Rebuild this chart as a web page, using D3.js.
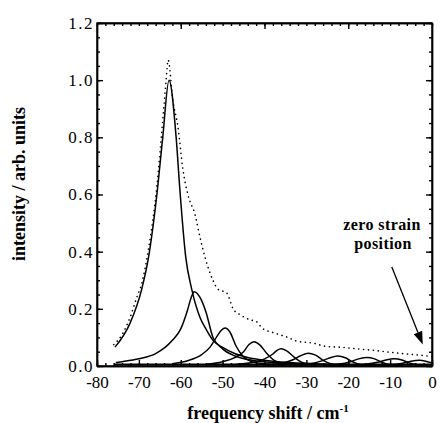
<!DOCTYPE html>
<html>
<head>
<meta charset="utf-8">
<script src="https://cdn.jsdelivr.net/npm/d3@7"></script>
<style>
  body { margin: 0; background: #fff; }
  svg { display: block; }
  .axis path, .axis line { stroke: #000; stroke-width: 1.4; }
  .axis text { font-family: "Liberation Serif", "Times New Roman", serif; font-size: 17px; fill: #000; }
  .title { font-family: "Liberation Serif", "Times New Roman", serif; font-weight: bold; fill: #000; }
</style>
</head>
<body>
<div id="chart"></div>
<script>
// tick labels
var xTicks = [-80, -70, -60, -50, -40, -30, -20, -10, 0];
var yTicks = [0.0, 0.2, 0.4, 0.6, 0.8, 1.0, 1.2];

// measured spectrum (dotted), [shift, intensity]
var measured = [[-76,0.075],[-74,0.11],[-72.1,0.17],[-70.5,0.24],[-69.3,0.29],[-67.7,0.41],[-65.7,0.63],[-64.3,0.86],[-63.5,1.0],[-63,1.07],
  [-61.9,0.93],[-60.7,0.84],[-59.5,0.69],[-58.3,0.6],[-56.6,0.53],[-55.4,0.45],[-54.2,0.38],[-52.3,0.3],[-51.2,0.27],[-49,0.255],
  [-47.5,0.2],[-45.9,0.18],[-43.5,0.162],[-41.8,0.154],[-40.6,0.133],[-37.5,0.115],[-34.4,0.1],[-32.3,0.087],[-28.4,0.08],
  [-25,0.068],[-22,0.066],[-18,0.06],[-14.8,0.056],[-10,0.048],[-6,0.042],[-2.9,0.038],[0,0.033]];

// fitted components
var peak1 = [[-75.7,0.066],[-72.1,0.15],[-69.3,0.27],[-67.7,0.38],[-65.7,0.6],[-64.3,0.8],[-62.8,1.0],[-61.1,0.8],[-60.2,0.615],
  [-58.8,0.38],[-57.4,0.27],[-55.4,0.17],[-54,0.13],[-52.3,0.09],[-50,0.065],[-47,0.043],[-44,0.03],[-40,0.02],[-35,0.013],[-28,0.008],[-20,0.005]];
var peak2 = [[-75.5,0.012],[-74,0.015],[-70,0.025],[-66,0.043],[-62,0.09],[-60,0.13],[-58.5,0.19],[-57.5,0.24],[-56.8,0.26],
  [-55.4,0.24],[-54,0.19],[-52.3,0.1],[-50,0.06],[-47,0.035],[-43,0.02],[-38,0.012],[-30,0.007]];
var peak3 = [[-62,0.008],[-60.2,0.012],[-58,0.02],[-55,0.04],[-53,0.066],[-51.5,0.1],[-50.3,0.125],[-49.4,0.133],[-48.3,0.12],
  [-46.8,0.07],[-45.2,0.035],[-43,0.015],[-40,0.008],[-35,0.004]];
var peak4 = [[-54,0.006],[-50,0.015],[-47,0.03],[-45,0.05],[-43.7,0.075],[-42.5,0.085],[-41.2,0.075],[-39.5,0.045],[-37.5,0.018],[-35,0.007],[-30,0.003]];
var peak5 = [[-47,0.005],[-43,0.012],[-40,0.025],[-38,0.042],[-37,0.055],[-36,0.06],[-34.8,0.054],[-33,0.032],[-31,0.012],[-28,0.004]];
var peak6 = [[-40,0.004],[-36,0.01],[-33.5,0.02],[-31.5,0.035],[-29.6,0.045],[-27.8,0.038],[-26,0.02],[-24,0.007],[-21,0.002]];
var peak7 = [[-33,0.003],[-29,0.008],[-26.5,0.017],[-24.5,0.028],[-22.5,0.035],[-20.7,0.029],[-19,0.015],[-17,0.005],[-14,0.002]];
var peak8 = [[-26,0.003],[-22,0.007],[-19.5,0.015],[-17.5,0.025],[-15.5,0.03],[-13.7,0.025],[-12,0.013],[-10,0.004],[-7,0.001]];
var peak9 = [[-20,0.002],[-16,0.006],[-13,0.013],[-11,0.021],[-9,0.025],[-7.2,0.021],[-5.5,0.011],[-3.5,0.004],[-1,0.001]];
var peak10 = [[-14,0.002],[-10,0.005],[-7,0.01],[-5,0.017],[-3,0.02],[-1.5,0.017],[0,0.011]];

var arrowFrom = [-9.6, 0.346], arrowTo = [-2.2, 0.075];

var margin = { top: 23, right: 9, bottom: 57, left: 97 },
  width  = 441 - margin.left - margin.right,
  height = 423 - margin.top - margin.bottom;

var x = d3.scaleLinear().domain([-80, 0]).range([0, width]);
var y = d3.scaleLinear().domain([0, 1.2]).range([height, 0]);

var svg = d3.select("#chart").append("svg")
  .attr("width", 441)
  .attr("height", 423)
  .append("g")
  .attr("transform", "translate(" + margin.left + "," + margin.top + ")");

var line = d3.line()
  .x(function(d) { return x(d[0]); })
  .y(function(d) { return y(d[1]); })
  .curve(d3.curveMonotoneX);

// minor ticks
var xMinor = d3.range(-80, 0.1, 2);
var yMinor = d3.range(0, 1.201, 0.05);

function minor(axis) { return axis.tickFormat("").tickSizeOuter(0); }

svg.append("g").attr("class", "axis")
  .attr("transform", "translate(0," + height + ")")
  .call(minor(d3.axisBottom(x).tickValues(xMinor).tickSizeInner(-3)));
svg.append("g").attr("class", "axis")
  .call(minor(d3.axisTop(x).tickValues(xMinor).tickSizeInner(-3)));
svg.append("g").attr("class", "axis")
  .call(minor(d3.axisLeft(y).tickValues(yMinor).tickSizeInner(-3)));
svg.append("g").attr("class", "axis")
  .attr("transform", "translate(" + width + ",0)")
  .call(minor(d3.axisRight(y).tickValues(yMinor).tickSizeInner(-3)));

// major ticks + labels (plain hyphen, like the original)
svg.append("g").attr("class", "axis")
  .attr("transform", "translate(0," + height + ")")
  .call(d3.axisBottom(x).tickValues(xTicks).tickSizeInner(-6).tickSizeOuter(0).tickPadding(10)
    .tickFormat(function(d) { return String(d); }));
svg.append("g").attr("class", "axis")
  .call(d3.axisLeft(y).tickValues(yTicks).tickSizeInner(-6).tickSizeOuter(0).tickPadding(3)
    .tickFormat(d3.format(".1f")))
  .selectAll("text").style("letter-spacing", "1.5px");
svg.append("g").attr("class", "axis")
  .call(d3.axisTop(x).tickValues([-60, -40, -20]).tickSizeInner(-6).tickSizeOuter(0).tickFormat(""));
svg.append("g").attr("class", "axis")
  .attr("transform", "translate(" + width + ",0)")
  .call(d3.axisRight(y).tickValues(yTicks).tickSizeInner(-6).tickSizeOuter(0).tickFormat(""));

// frame
svg.append("rect")
  .attr("width", width).attr("height", height)
  .attr("fill", "none").attr("stroke", "#000").attr("stroke-width", 1.4);
svg.append("line")
  .attr("x1", x(-76)).attr("x2", width)
  .attr("y1", height - 1.5).attr("y2", height - 1.5)
  .attr("stroke", "#000").attr("stroke-width", 2);

// components
[peak1, peak2, peak3, peak4, peak5, peak6, peak7, peak8, peak9, peak10].forEach(function(p) {
  svg.append("path")
    .attr("d", line(p))
    .attr("fill", "none")
    .attr("stroke", "#000")
    .attr("stroke-width", 1.5);
});

// measured (dotted)
svg.append("path")
  .attr("d", line(measured))
  .attr("fill", "none")
  .attr("stroke", "#000")
  .attr("stroke-width", 1.6)
  .attr("stroke-linecap", "round")
  .attr("stroke-dasharray", "0.1,4.8");

// annotation
svg.append("text").attr("class", "title")
  .attr("x", 382 - margin.left).attr("y", 230 - margin.top)
  .style("font-size", "16px").style("letter-spacing", "0.4px").style("text-anchor", "middle")
  .text("zero strain");
svg.append("text").attr("class", "title")
  .attr("x", 383 - margin.left).attr("y", 249 - margin.top)
  .style("font-size", "16px").style("letter-spacing", "0.4px").style("text-anchor", "middle")
  .text("position");

var ax0 = x(arrowFrom[0]), ay0 = y(arrowFrom[1]), ax1 = x(arrowTo[0]), ay1 = y(arrowTo[1]);
var ang = Math.atan2(ay1 - ay0, ax1 - ax0), hl = 13, hw = 4.5;
var bx = ax1 - hl * Math.cos(ang), by = ay1 - hl * Math.sin(ang);
svg.append("line")
  .attr("x1", ax0).attr("y1", ay0).attr("x2", bx).attr("y2", by)
  .attr("stroke", "#000").attr("stroke-width", 1.3);
svg.append("path")
  .attr("d", "M" + ax1 + "," + ay1 +
    "L" + (bx - hw * Math.sin(ang)) + "," + (by + hw * Math.cos(ang)) +
    "L" + (bx + hw * Math.sin(ang)) + "," + (by - hw * Math.cos(ang)) + "Z")
  .attr("fill", "#000");

// x axis label
var xl = svg.append("text").attr("class", "title")
  .attr("x", 268 - margin.left)
  .attr("y", 419 - margin.top)
  .style("font-size", "18px")
  .style("text-anchor", "middle");
xl.append("tspan").text("frequency shift / cm");
xl.append("tspan").attr("dy", -7).style("font-size", "11px").text("-1");

// y axis label
svg.append("text").attr("class", "title")
  .attr("transform", "translate(" + (25 - margin.left) + "," + (184 - margin.top) + ") rotate(-90)")
  .style("font-size", "18px")
  .style("text-anchor", "middle")
  .text("intensity / arb. units");
</script>
</body>
</html>
